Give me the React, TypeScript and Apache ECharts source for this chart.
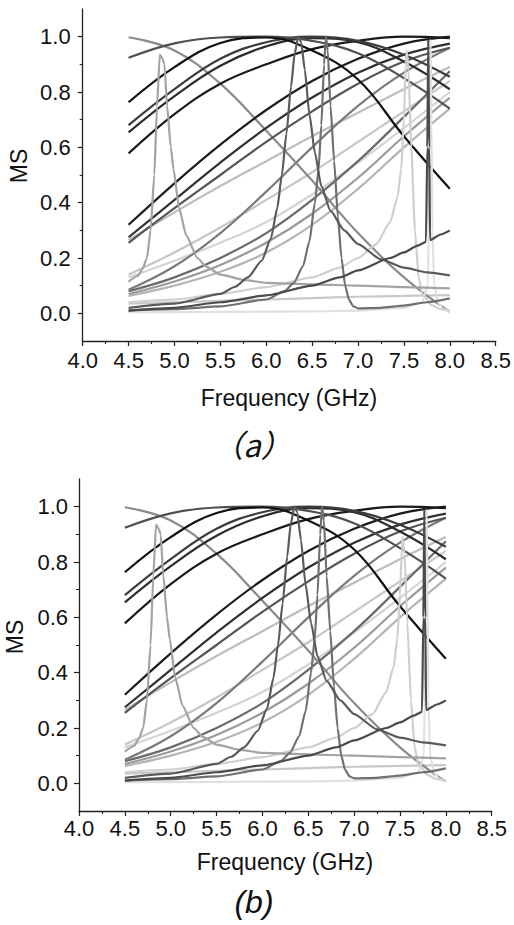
import React, { useEffect, useRef } from "react";
import * as echarts from "echarts";

// ---------- data ----------
const freq = [4.5, 5.0, 5.5, 6.0, 6.5, 7.0, 7.5, 8.0];

const msDescend = [0.998, 0.95, 0.83, 0.66, 0.48, 0.29, 0.13, 0.005];
const msTopA = [0.924, 0.976, 0.997, 1.0, 0.985, 0.94, 0.85, 0.74];
const msBlackPeak = [0.763, 0.89, 0.977, 0.997, 0.95, 0.845, 0.64, 0.45];
const msC = [0.68, 0.81, 0.92, 0.98, 1.0, 0.985, 0.935, 0.855];
const msD = [0.654, 0.785, 0.895, 0.965, 0.995, 0.98, 0.91, 0.81];
const msE = [0.578, 0.72, 0.83, 0.9, 0.955, 0.985, 1.0, 0.995];
const msK1 = [0.32, 0.47, 0.61, 0.735, 0.84, 0.92, 0.975, 1.0];
const msK2 = [0.275, 0.41, 0.545, 0.67, 0.78, 0.87, 0.935, 0.975];
const msK3 = [0.255, 0.38, 0.5, 0.62, 0.73, 0.83, 0.91, 0.96];
const msL1 = [0.265, 0.365, 0.46, 0.55, 0.64, 0.725, 0.81, 0.89];
const msG1 = [0.085, 0.17, 0.29, 0.44, 0.6, 0.75, 0.87, 0.96];
const msL2 = [0.14, 0.22, 0.31, 0.41, 0.51, 0.62, 0.73, 0.84];
const msL3 = [0.13, 0.19, 0.255, 0.33, 0.43, 0.545, 0.67, 0.8];
const msG2 = [0.08, 0.13, 0.2, 0.29, 0.41, 0.55, 0.71, 0.875];
const msG3 = [0.07, 0.115, 0.175, 0.255, 0.36, 0.49, 0.64, 0.78];
const msL4 = [0.063, 0.1, 0.15, 0.22, 0.32, 0.45, 0.6, 0.74];
const msL5 = [0.035, 0.04, 0.045, 0.05, 0.055, 0.06, 0.063, 0.066];

// resonance near 4.85 GHz
const p1Freq = [4.5, 4.6, 4.65, 4.7, 4.74, 4.78, 4.81, 4.84, 4.87, 4.89, 4.92, 4.96, 4.99, 5.05, 5.13, 5.25, 5.35, 5.5, 5.77, 6.0, 6.5, 7.0, 7.5, 8.0];
const p1Val = [0.115, 0.135, 0.16, 0.2, 0.3, 0.5, 0.75, 0.935, 0.92, 0.9, 0.75, 0.6, 0.52, 0.38, 0.28, 0.2, 0.168, 0.14, 0.12, 0.11, 0.105, 0.1, 0.095, 0.09];
// resonance near 6.35 GHz
const p2Freq = [4.5, 5.0, 5.5, 5.66, 5.8, 5.95, 6.05, 6.12, 6.17, 6.22, 6.27, 6.31, 6.35, 6.38, 6.42, 6.47, 6.53, 6.6, 6.7, 6.85, 7.0, 7.25, 7.5, 7.75, 8.0];
const p2Val = [0.02, 0.035, 0.07, 0.096, 0.13, 0.19, 0.27, 0.38, 0.5, 0.65, 0.82, 0.94, 1.0, 0.98, 0.88, 0.72, 0.58, 0.46, 0.37, 0.3, 0.25, 0.195, 0.165, 0.148, 0.137];
// resonance near 6.65 GHz
const p3Freq = [4.5, 5.0, 5.5, 6.0, 6.2, 6.3, 6.4, 6.47, 6.53, 6.57, 6.6, 6.63, 6.65, 6.67, 6.7, 6.74, 6.78, 6.82, 6.86, 6.9, 6.95, 7.0, 7.25, 7.5, 7.75, 8.0];
const p3Val = [0.01, 0.015, 0.025, 0.05, 0.08, 0.11, 0.17, 0.26, 0.4, 0.52, 0.68, 0.9, 1.0, 0.95, 0.75, 0.55, 0.35, 0.2, 0.1, 0.05, 0.025, 0.018, 0.02, 0.028, 0.04, 0.054];
// resonance near 7.5 GHz (panel a / panel b)
const p4Freq = [4.5, 5.0, 5.5, 6.0, 6.5, 6.8, 7.0, 7.2, 7.35, 7.43, 7.47, 7.5, 7.52, 7.53, 7.55, 7.58, 7.62, 7.66, 7.7, 7.8, 7.9, 8.0];
const p4ValA = [0.04, 0.05, 0.07, 0.095, 0.13, 0.165, 0.2, 0.25, 0.33, 0.42, 0.52, 0.7, 0.9, 0.95, 0.88, 0.6, 0.3, 0.13, 0.07, 0.03, 0.015, 0.01];
const p4ValB = [0.04, 0.05, 0.07, 0.095, 0.13, 0.165, 0.2, 0.25, 0.33, 0.42, 0.52, 0.68, 0.85, 0.89, 0.83, 0.58, 0.3, 0.13, 0.07, 0.03, 0.015, 0.01];
// sharp resonance near 7.76 GHz
const p5Freq = [4.5, 5.0, 5.5, 6.0, 6.5, 6.8, 7.0, 7.35, 7.5, 7.65, 7.74, 7.755, 7.765, 7.775, 7.785, 7.9, 8.0];
const p5Val = [0.01, 0.02, 0.04, 0.065, 0.1, 0.13, 0.155, 0.2, 0.22, 0.245, 0.258, 0.6, 0.99, 0.6, 0.265, 0.285, 0.3];
// sharp resonance near 7.79 GHz
const p6Freq = [4.5, 5.5, 6.5, 7.0, 7.5, 7.7, 7.76, 7.78, 7.79, 7.8, 7.81, 7.83, 7.87, 7.93, 8.0];
const p6Val = [0.004, 0.005, 0.007, 0.01, 0.02, 0.04, 0.1, 0.5, 0.99, 0.7, 0.3, 0.1, 0.04, 0.015, 0.005];

const xMin = 4.0;
const xMax = 8.5;
const xStep = 0.5;
const yMin = -0.1;
const yMax = 1.1;
const yMajorTicks = [0.0, 0.2, 0.4, 0.6, 0.8, 1.0];
const yMinorTicks = [0.1, 0.3, 0.5, 0.7, 0.9];

// ---------- styling ----------
const FONT = "Liberation Sans";
const LW = 2.2;
const broadCurves: { v: number[]; c: string }[] = [
  { v: msL3, c: "#d4d4d4" },
  { v: msL2, c: "#c6c6c6" },
  { v: msL4, c: "#b4b4b4" },
  { v: msL1, c: "#bdbdbd" },
  { v: msL5, c: "#c8c8c8" },
  { v: msG3, c: "#9a9a9a" },
  { v: msG2, c: "#6a6a6a" },
  { v: msG1, c: "#7a7a7a" },
  { v: msDescend, c: "#8a8a8a" },
  { v: msK3, c: "#555555" },
  { v: msK2, c: "#303030" },
  { v: msK1, c: "#1c1c1c" },
  { v: msE, c: "#1a1a1a" },
  { v: msD, c: "#2c2c2c" },
  { v: msC, c: "#3c3c3c" },
  { v: msTopA, c: "#505050" },
  { v: msBlackPeak, c: "#111111" },
];

function buildSeries(panel: number) {
  const s: any[] = [];
  const common = {
    type: "line",
    xAxisIndex: panel,
    yAxisIndex: panel,
    showSymbol: false,
    symbol: "none",
    silent: true,
  };
  broadCurves.forEach((bc) => {
    s.push({
      ...common,
      smooth: 0.4,
      data: freq.map((f, i) => [f, bc.v[i]]),
      lineStyle: { color: bc.c, width: LW },
    });
  });
  const peaks: { f: number[]; v: number[]; c: string }[] = [
    { f: p6Freq, v: p6Val, c: "#e0e0e0" },
    { f: p4Freq, v: panel === 0 ? p4ValA : p4ValB, c: "#cfcfcf" },
    { f: p1Freq, v: p1Val, c: "#a3a3a3" },
    { f: p3Freq, v: p3Val, c: "#707070" },
    { f: p2Freq, v: p2Val, c: "#5a5a5a" },
    { f: p5Freq, v: p5Val, c: "#4a4a4a" },
  ];
  peaks.forEach((p) => {
    s.push({
      ...common,
      smooth: 0.2,
      smoothMonotone: "x",
      data: p.f.map((f, i) => [f, p.v[i]]),
      lineStyle: { color: p.c, width: LW },
    });
  });
  return s;
}

function xAxisFor(panel: number, margin: number) {
  return {
    type: "value",
    gridIndex: panel,
    min: xMin,
    max: xMax,
    interval: xStep,
    axisLine: { onZero: false, lineStyle: { color: "#222", width: 1.3 } },
    axisTick: { length: 5, lineStyle: { color: "#222", width: 1.2 } },
    minorTick: { show: true, splitNumber: 2, length: 3, lineStyle: { color: "#222", width: 1.1 } },
    splitLine: { show: false },
    minorSplitLine: { show: false },
    axisLabel: {
      formatter: (v: number) => v.toFixed(1),
      fontFamily: FONT,
      fontSize: 22,
      color: "#111",
      margin,
      showMinLabel: true,
      showMaxLabel: true,
    },
  };
}

function yAxisFor(panel: number, margin: number) {
  return {
    type: "value",
    gridIndex: panel,
    min: yMin,
    max: yMax,
    interval: 0.1,
    axisLine: { onZero: false, lineStyle: { color: "#222", width: 1.3 } },
    axisTick: { customValues: yMajorTicks, length: 5, lineStyle: { color: "#222", width: 1.2 } },
    splitLine: { show: false },
    axisLabel: {
      customValues: yMajorTicks,
      formatter: (v: number) => v.toFixed(1),
      fontFamily: FONT,
      fontSize: 22,
      color: "#111",
      margin,
    },
  };
}

function minorYAxis(panel: number) {
  return {
    type: "value",
    gridIndex: panel,
    position: "left",
    min: yMin,
    max: yMax,
    interval: 0.1,
    axisLine: { show: false, onZero: false },
    axisTick: { customValues: yMinorTicks, length: 3, lineStyle: { color: "#222", width: 1.1 } },
    axisLabel: { show: false },
    splitLine: { show: false },
  };
}

function label(text: string, x: number, y: number, font: string, rotation = 0) {
  return {
    type: "text",
    x,
    y,
    rotation,
    style: { text, font, fill: "#111", align: "center", verticalAlign: "middle" },
  };
}

export default function App() {
  const ref = useRef<HTMLDivElement>(null);
  useEffect(() => {
    if (!ref.current) return;
    const chart = echarts.init(ref.current, null, { renderer: "svg" });
    const titleFont = `23px '${FONT}'`;
    const option: any = {
      animation: false,
      backgroundColor: "#ffffff",
      grid: [
        { left: 82.7, top: 9, width: 413, height: 332 },
        { left: 79, top: 479, width: 412.7, height: 332 },
      ],
      xAxis: [xAxisFor(0, 8), xAxisFor(1, 6)],
      yAxis: [yAxisFor(0, 12), yAxisFor(1, 11), minorYAxis(0), minorYAxis(1)],
      series: [...buildSeries(0), ...buildSeries(1)],
      graphic: [
        label("MS", 18.5, 166, titleFont, Math.PI / 2),
        label("MS", 14.5, 637, titleFont, Math.PI / 2),
        label("Frequency (GHz)", 289, 398, titleFont),
        label("Frequency (GHz)", 285, 862, titleFont),
        label("（a）", 252, 443, `italic 31px 'Noto Sans CJK SC'`),
        label("(b)", 254, 902, `italic 32px '${FONT}'`),
      ],
    };
    chart.setOption(option);
    return () => chart.dispose();
  }, []);
  return (
    <div
      ref={ref}
      style={{ position: "absolute", left: 0, top: 0, width: 514, height: 925, background: "#fff" }}
    />
  );
}
